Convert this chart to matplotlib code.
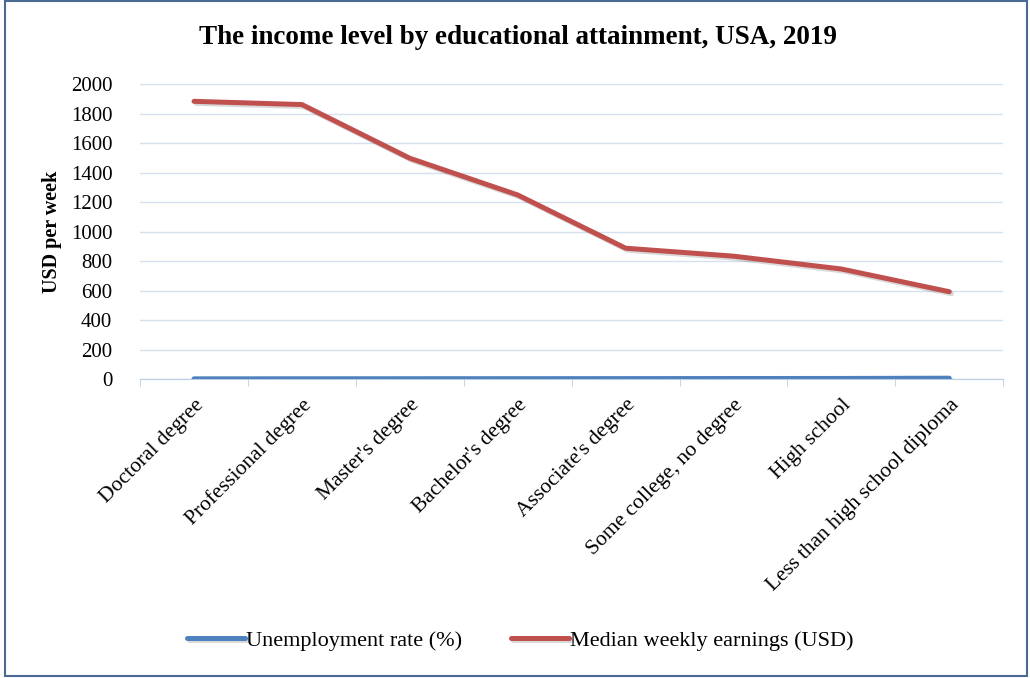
import matplotlib.pyplot as plt
import matplotlib.patheffects as pe
from matplotlib.patches import Rectangle

# data: BLS 2019
categories = ["Doctoral degree", "Professional degree", "Master's degree",
              "Bachelor's degree", "Associate's degree", "Some college, no degree",
              "High school", "Less than high school diploma"]
unemployment = [1.1, 1.6, 2.0, 2.2, 2.7, 3.3, 3.7, 5.4]
earnings = [1883, 1861, 1497, 1248, 887, 833, 746, 592]
yticks = [0, 200, 400, 600, 800, 1000, 1200, 1400, 1600, 1800, 2000]

plt.rcParams['font.family'] = ['Liberation Serif', 'DejaVu Serif']

fig = plt.figure(figsize=(10.30, 6.78), dpi=100)
ax = fig.add_axes([0.136, 0.441, 0.838, 0.435])

x = list(range(len(categories)))
shadow = [pe.SimpleLineShadow(offset=(1.5, -1.5), alpha=0.15), pe.Normal()]
ax.plot(x, unemployment, color='#4f81bd', lw=3.6, solid_capstyle='round',
        label='Unemployment rate (%)', path_effects=shadow, zorder=3)
ax.plot(x, earnings, color='#c0504d', lw=3.6, solid_capstyle='round',
        label='Median weekly earnings (USD)', path_effects=shadow, zorder=3)

ax.set_xlim(-0.5, len(categories) - 0.5)
ax.set_ylim(0, 2000)
ax.set_yticks(yticks)
ax.set_yticklabels([str(v) for v in yticks], fontsize=15)
ax.set_xticks(x)
ax.set_xticklabels(categories, rotation=45, ha='right', rotation_mode='anchor', fontsize=15.5)
ax.tick_params(axis='y', length=0, pad=20)
ax.tick_params(axis='x', length=0, pad=12)
# minor ticks between categories like Excel
ax.set_xticks([i - 0.5 for i in range(len(categories) + 1)], minor=True)
ax.tick_params(axis='x', which='minor', length=5, color='#b9cde5', direction='out')

ax.grid(axis='y', color='#d5e1ef', lw=1)
ax.set_axisbelow(True)
for s in ['top', 'right', 'left']:
    ax.spines[s].set_visible(False)
ax.spines['bottom'].set_color('#b9cde5')

ax.set_ylabel('USD per week', fontsize=14.5, fontweight='bold', labelpad=6)
fig.text(0.503, 0.944, 'The income level by educational attainment, USA, 2019',
         ha='center', va='center', fontsize=19.5, fontweight='bold')

fig.legend(loc='center', bbox_to_anchor=(0.505, 0.055), ncol=2, frameon=False,
           fontsize=16, handlelength=2.6, handletextpad=0.05, columnspacing=2.2)

fig.add_artist(Rectangle((0.005, 0.003), 0.992, 0.995, transform=fig.transFigure,
                         fill=False, edgecolor='#4a6a94', lw=1.5))

fig.savefig('out.png', dpi=100)
